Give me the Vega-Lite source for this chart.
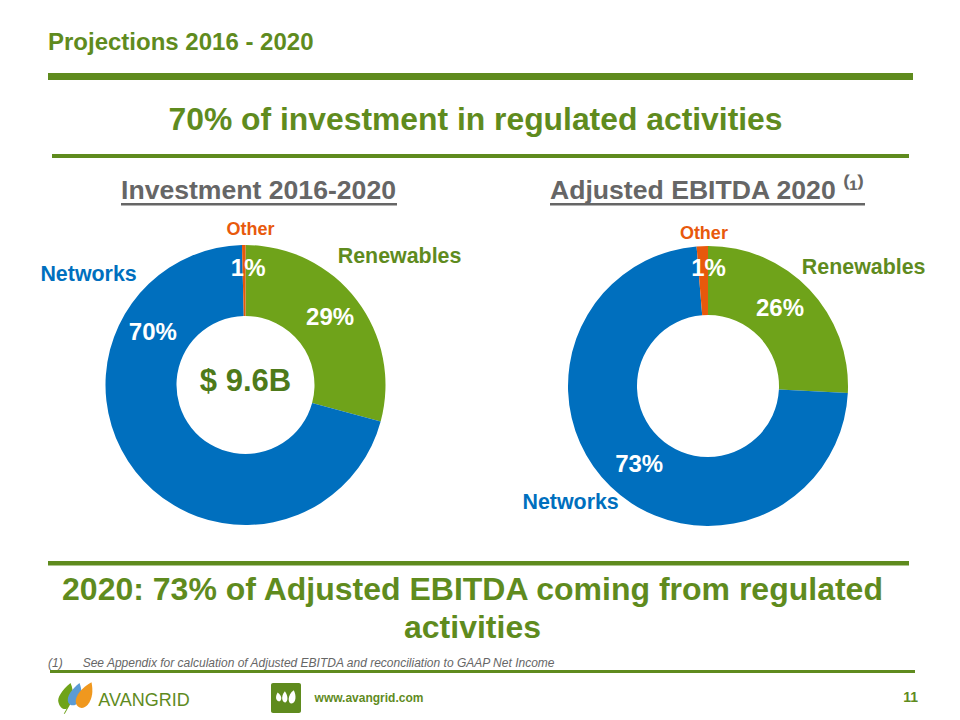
{
"$schema":"https://vega.github.io/schema/vega-lite/v6.json",
"padding":{"left":0,"top":30,"right":0,"bottom":0},
"background":"white",
"config":{"view":{"stroke":null},"font":"Liberation Sans","concat":{"spacing":0},"title":{"font":"Liberation Sans","fontWeight":"bold"}},
"datasets":{"blank":[{}],
"invest":[{"segment":"Renewables","share":29.2,"label":"29%","rank":1},{"segment":"Networks","share":70.4,"label":"70%","rank":2},{"segment":"Other","share":0.4,"label":"1%","rank":3}],
"ebitda":[{"segment":"Renewables","share":25.8,"label":"26%","rank":1},{"segment":"Networks","share":72.9,"label":"73%","rank":2},{"segment":"Other","share":1.3,"label":"1%","rank":3}]},
"vconcat":[
{"hconcat":[
{"width":48,"height":1,"data":{"name":"blank"},"mark":{"type":"text","text":""}},
{"width":865,"height":7,"data":{"name":"blank"},"mark":{"type":"text","text":""},"view":{"fill":"#5f8b1e"},"title":{"text":"Projections 2016 - 2020","anchor":"start","fontSize":24,"color":"#5f8b1e","offset":16}}
]},
{"width":48,"height":23,"data":{"name":"blank"},"mark":{"type":"text","text":""}},
{"hconcat":[
{"width":52,"height":1,"data":{"name":"blank"},"mark":{"type":"text","text":""}},
{"width":857,"height":4,"data":{"name":"blank"},"mark":{"type":"text","text":""},"view":{"fill":"#5f8b1e"},"title":{"text":"70% of investment in regulated activities","anchor":"middle","dx":-5,"fontSize":31.85,"color":"#5f8b1e","offset":13}}
]},
{"width":48,"height":16,"data":{"name":"blank"},"mark":{"type":"text","text":""}},
{"spacing":-16,"vconcat":[
{"hconcat":[
{"width":15,"height":1,"data":{"name":"blank"},"mark":{"type":"text","text":""}},
{"vconcat":[
{"hconcat":[
{"width":106,"height":1,"data":{"name":"blank"},"mark":{"type":"text","text":""}},
{"width":276,"height":2.5,"data":{"name":"blank"},"mark":{"type":"text","text":""},"view":{"fill":"#666666"},"title":{"text":"Investment 2016-2020","anchor":"start","fontSize":26.6,"color":"#666666","offset":-6}}
]},
{"width":461,"height":350,"data":{"name":"invest"},
"layer":[
{"encoding":{"theta":{"field":"share","type":"quantitative","stack":true},"order":{"field":"rank","type":"ordinal"},"detail":{"field":"segment"}},
"layer":[
{"mark":{"type":"arc","outerRadius":140,"innerRadius":69},"encoding":{"color":{"field":"segment","type":"nominal","legend":null,"scale":{"domain":["Renewables","Networks","Other"],"range":["#6fa31a","#006fbe","#e8590c"]}}}},
{"mark":{"type":"text","clip":true,"radius":109,"dx":-2,"dy":-1,"fontSize":24,"fontWeight":"bold","fill":"white"},"encoding":{"text":{"condition":{"test":"datum.segment==='Renewables'","field":"label"},"value":""}}},
{"mark":{"type":"text","clip":true,"radius":109,"dx":-7,"dy":-119,"fontSize":24,"fontWeight":"bold","fill":"white"},"encoding":{"text":{"condition":{"test":"datum.segment==='Networks'","field":"label"},"value":""}}},
{"mark":{"type":"text","clip":true,"radius":109,"dx":4,"dy":-7,"fontSize":24,"fontWeight":"bold","fill":"white"},"encoding":{"text":{"condition":{"test":"datum.segment==='Other'","field":"label"},"value":""}}},
{"mark":{"type":"text","clip":true,"radius":150,"dx":35,"dy":-37,"fontSize":21.4,"fontWeight":"bold","fill":"#5f8b1e"},"encoding":{"text":{"condition":{"test":"datum.segment==='Renewables'","field":"segment"},"value":""}}},
{"mark":{"type":"text","clip":true,"radius":150,"dx":-39,"dy":-203,"fontSize":21.4,"fontWeight":"bold","fill":"#006fbe"},"encoding":{"text":{"condition":{"test":"datum.segment==='Networks'","field":"segment"},"value":""}}},
{"mark":{"type":"text","clip":true,"radius":150,"dx":7,"dy":-5,"fontSize":18,"fontWeight":"bold","fill":"#e8590c"},"encoding":{"text":{"condition":{"test":"datum.segment==='Other'","field":"segment"},"value":""}}}
]},
{"data":{"values":[{"note":"$ 9.6B"}]},"mark":{"type":"text","dy":-3,"fontSize":31,"fontWeight":"bold","fill":"#4e7a1a"},"encoding":{"text":{"field":"note"}}}
]}
],"spacing":0},
{"width":2,"height":1,"data":{"name":"blank"},"mark":{"type":"text","text":""}},
{"vconcat":[
{"hconcat":[
{"width":72,"height":1,"data":{"name":"blank"},"mark":{"type":"text","text":""}},
{"width":315,"height":2.5,"data":{"name":"blank"},"mark":{"type":"text","text":""},"view":{"fill":"#666666"},"title":{"text":"Adjusted EBITDA 2020 ⁽¹⁾","anchor":"start","fontSize":26.6,"color":"#666666","offset":-6}}
]},
{"width":460,"height":350,"data":{"name":"ebitda"},
"encoding":{"theta":{"field":"share","type":"quantitative","stack":true},"order":{"field":"rank","type":"ordinal"},"detail":{"field":"segment"}},
"layer":[
{"mark":{"type":"arc","outerRadius":140,"innerRadius":71},"encoding":{"color":{"field":"segment","type":"nominal","legend":null,"scale":{"domain":["Renewables","Networks","Other"],"range":["#6fa31a","#006fbe","#e8590c"]}}}},
{"mark":{"type":"text","clip":true,"radius":109,"dx":-7,"dy":-2,"fontSize":24,"fontWeight":"bold","fill":"white"},"encoding":{"text":{"condition":{"test":"datum.segment==='Renewables'","field":"label"},"value":""}}},
{"mark":{"type":"text","clip":true,"radius":109,"dx":7,"dy":1,"fontSize":24,"fontWeight":"bold","fill":"white"},"encoding":{"text":{"condition":{"test":"datum.segment==='Networks'","field":"label"},"value":""}}},
{"mark":{"type":"text","clip":true,"radius":109,"dx":5,"dy":-8,"fontSize":24,"fontWeight":"bold","fill":"white"},"encoding":{"text":{"condition":{"test":"datum.segment==='Other'","field":"label"},"value":""}}},
{"mark":{"type":"text","clip":true,"radius":150,"dx":47,"dy":-15,"fontSize":21.4,"fontWeight":"bold","fill":"#5f8b1e"},"encoding":{"text":{"condition":{"test":"datum.segment==='Renewables'","field":"segment"},"value":""}}},
{"mark":{"type":"text","clip":true,"radius":150,"dx":-33,"dy":9,"fontSize":21.4,"fontWeight":"bold","fill":"#006fbe"},"encoding":{"text":{"condition":{"test":"datum.segment==='Networks'","field":"segment"},"value":""}}},
{"mark":{"type":"text","clip":true,"radius":150,"dx":2,"dy":-2,"fontSize":18,"fontWeight":"bold","fill":"#e8590c"},"encoding":{"text":{"condition":{"test":"datum.segment==='Other'","field":"segment"},"value":""}}}
]}
],"spacing":1}
]},
{"hconcat":[
{"width":48,"height":1,"data":{"name":"blank"},"mark":{"type":"text","text":""}},
{"width":861,"height":4.5,"data":{"name":"blank"},"mark":{"type":"text","text":""},"view":{"fill":"#5f8b1e"},"title":{"text":["2020: 73% of Adjusted EBITDA coming from regulated","activities"],"orient":"bottom","anchor":"middle","dx":-6,"fontSize":32,"lineHeight":38,"color":"#5f8b1e","offset":7}}
]}
]},
{"width":48,"height":4,"data":{"name":"blank"},"mark":{"type":"text","text":""}},
{"hconcat":[
{"width":48,"height":1,"data":{"name":"blank"},"mark":{"type":"text","text":""}},
{"width":865,"height":3,"data":{"name":"blank"},"mark":{"type":"text","text":""},"view":{"fill":"#5f8b1e"},"title":{"text":"(1)\u00a0\u00a0\u00a0\u00a0\u00a0\u00a0See Appendix for calculation of Adjusted EBITDA and reconciliation to GAAP Net Income","anchor":"start","dx":-2,"fontSize":12,"fontWeight":"normal","fontStyle":"italic","color":"#666666","offset":-4}}
]},
{"hconcat":[
{"width":56,"height":8,"data":{"name":"blank"},"mark":{"type":"text","text":""}},
{"width":38,"height":30,"data":{"name":"blank"},
"layer":[
{"mark":{"type":"point","filled":true,"opacity":1,"size":900,"fill":"#6fa31a","shape":"M-0.3,-1 C-0.9,-0.5 -1.2,0 -1.1,0.3 C-1,0.7 -0.7,0.8 -0.55,0.7 L-0.75,1.05 L-0.68,1.05 L-0.45,0.65 C-0.2,0.3 0,-0.4 -0.3,-1Z"}},
{"mark":{"type":"point","filled":true,"opacity":1,"size":900,"fill":"#5b9bd5","shape":"M0.3,-1 C-0.2,-0.6 -0.6,-0.1 -0.45,0.3 C-0.3,0.6 0.1,0.5 0.2,0.3 C0.5,-0.2 0.45,-0.6 0.3,-1Z"}},
{"mark":{"type":"point","filled":true,"opacity":1,"size":900,"fill":"#f0981e","shape":"M1.1,-1.05 C0.5,-0.7 0,-0.2 0.05,0.3 C0.15,0.75 0.6,0.75 0.85,0.45 C1.2,0 1.2,-0.5 1.1,-1.05Z"}}
]},
{"width":4,"height":1,"data":{"name":"blank"},"mark":{"type":"text","text":""}},
{"width":92,"height":30,"data":{"values":[{"brand":"AVANGRID"}]},"mark":{"type":"text","dy":3,"fontSize":18,"fill":"#5f8b1e"},"encoding":{"text":{"field":"brand"}}},
{"width":81,"height":1,"data":{"name":"blank"},"mark":{"type":"text","text":""}},
{"width":30,"height":30,"data":{"name":"blank"},"view":{"fill":"#5f8b1e","cornerRadius":2},
"mark":{"type":"point","filled":true,"opacity":1,"size":500,"fill":"white","shape":"M-0.75,-0.5 C-1,-0.1 -0.9,0.3 -0.55,0.3 C-0.35,0.1 -0.35,-0.2 -0.75,-0.5Z M-0.1,-0.6 C-0.5,-0.1 -0.35,0.4 -0.05,0.4 C0.2,0.3 0.2,-0.2 -0.1,-0.6Z M0.7,-0.7 C0.1,-0.3 0.15,0.5 0.5,0.5 C0.9,0.4 0.95,-0.2 0.7,-0.7Z"}},
{"width":13,"height":1,"data":{"name":"blank"},"mark":{"type":"text","text":""}},
{"width":108,"height":30,"data":{"values":[{"site":"www.avangrid.com"}]},"mark":{"type":"text","dy":0,"fontSize":12,"fontWeight":"bold","fill":"#5f8b1e"},"encoding":{"text":{"field":"site"}}},
{"width":470,"height":30,"data":{"values":[{"page":"11"}]},"mark":{"type":"text","align":"right","dx":259,"fontSize":14,"fontWeight":"bold","fill":"#5f8b1e"},"encoding":{"text":{"field":"page"}}}
]}
]
}
